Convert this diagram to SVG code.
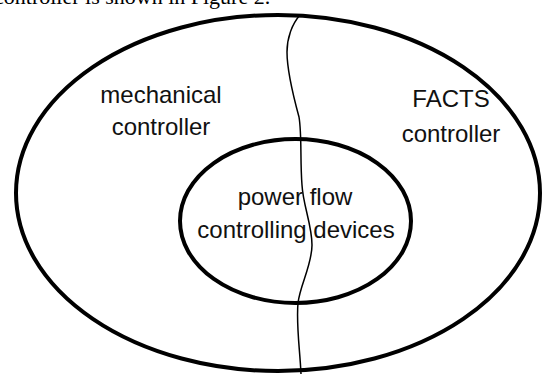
<svg xmlns="http://www.w3.org/2000/svg" width="542" height="374" viewBox="0 0 542 374">
<style>
.ring{fill:none;stroke:#000;stroke-width:4}
.lbl{font-family:"Liberation Sans",Arial,sans-serif;font-size:24px;fill:#111;text-anchor:middle}
.cap{font-family:"Liberation Serif","Times New Roman",serif;font-size:22px;fill:#000}
.div{fill:none;stroke:#000;stroke-width:1.5}
</style>
<rect width="542" height="374" fill="#fff"/>
<text class="cap" x="-6" y="4">controller is shown in Figure 2.</text>
<g id="outer">
<ellipse class="ring" cx="278" cy="193" rx="262" ry="178"/>
</g>
<g id="inner">
<ellipse class="ring" cx="295.5" cy="221" rx="115.5" ry="82"/>
</g>
<g id="connectors">
<path class="div" d="M300,15 C292,24 287,38 287,52 C287,70 293,95 299,117 C302,135 300,160 302,185 C303,205 312,225 312,245 C312,265 300,285 298,303 C296,325 300,350 301,374"/>
</g>
<g id="mech">
<text class="lbl" x="161" y="103">mechanical</text>
<text class="lbl" x="161" y="135">controller</text>
</g>
<g id="facts">
<text class="lbl" x="451" y="107">FACTS</text>
<text class="lbl" x="451" y="142">controller</text>
</g>
<g id="pfc">
<text class="lbl" x="295" y="205">power flow</text>
<text class="lbl" x="296" y="238">controlling devices</text>
</g>
</svg>
